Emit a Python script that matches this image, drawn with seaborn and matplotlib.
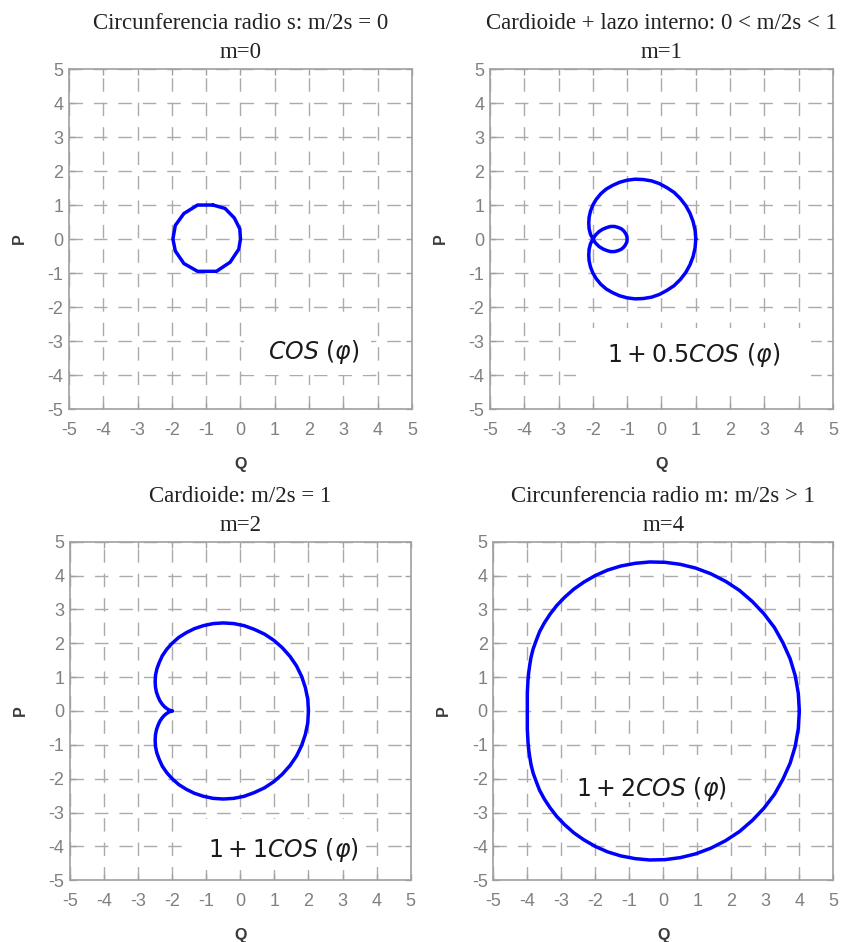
import matplotlib
matplotlib.use("Agg")
import matplotlib.pyplot as plt
import seaborn as sns
from matplotlib.patches import Rectangle

# ---- curve data (Q, P) ----
q_m0 = [-0.8, -0.45, -0.18, -0.02, 0.0, -0.05, -0.3, -0.7, -1.25, -1.65, -1.9, -1.97,
        -1.9, -1.65, -1.25, -0.8]
p_m0 = [1.0, 0.9, 0.62, 0.3, 0.0, -0.3, -0.68, -0.95, -0.95, -0.72, -0.35, 0.0,
        0.4, 0.75, 1.0, 1.0]

q_m1 = [1.00, 0.98, 0.92, 0.83, 0.71, 0.55, 0.37, 0.16, -0.06, -0.29, -0.53, -0.77,
        -1.00, -1.22, -1.42, -1.61, -1.77, -1.90, -2.00, -2.07, -2.11, -2.12, -2.11,
        -2.07, -2.00, -1.92, -1.82, -1.71, -1.59, -1.48, -1.37, -1.26, -1.17, -1.10,
        -1.05, -1.01, -1.00,
        -1.01, -1.05, -1.10, -1.17, -1.26, -1.37, -1.48, -1.59, -1.71, -1.82, -1.92,
        -2.00, -2.07, -2.11, -2.12, -2.11, -2.07, -2.00, -1.90, -1.77, -1.61, -1.42,
        -1.22, -1.00, -0.77, -0.53, -0.29, -0.06, 0.16, 0.37, 0.55, 0.71, 0.83, 0.92,
        0.98, 1.00]
p_m1 = [0.00, 0.26, 0.52, 0.76, 0.98, 1.19, 1.37, 1.51, 1.63, 1.71, 1.75, 1.76,
        1.73, 1.67, 1.58, 1.47, 1.33, 1.17, 1.00, 0.82, 0.64, 0.47, 0.30,
        0.14, 0.00, -0.12, -0.22, -0.29, -0.34, -0.37, -0.37, -0.34, -0.30, -0.24,
        -0.17, -0.09, 0.00,
        0.09, 0.17, 0.24, 0.30, 0.34, 0.37, 0.37, 0.34, 0.29, 0.22, 0.12,
        0.00, -0.14, -0.30, -0.47, -0.64, -0.82, -1.00, -1.17, -1.33, -1.47, -1.58,
        -1.67, -1.73, -1.76, -1.75, -1.71, -1.63, -1.51, -1.37, -1.19, -0.98, -0.76,
        -0.52, -0.26, 0.00]

q_m2 = [2.00, 1.98, 1.91, 1.80, 1.65, 1.46, 1.23, 0.98, 0.71, 0.41, 0.11, -0.19,
        -0.50, -0.80, -1.08, -1.35, -1.59, -1.81, -2.00, -2.16, -2.29, -2.38, -2.45,
        -2.49, -2.50, -2.49, -2.46, -2.41, -2.36, -2.30, -2.23, -2.17, -2.11, -2.07,
        -2.03, -2.01, -2.00,
        -2.01, -2.03, -2.07, -2.11, -2.17, -2.23, -2.30, -2.36, -2.41, -2.46, -2.49,
        -2.50, -2.49, -2.45, -2.38, -2.29, -2.16, -2.00, -1.81, -1.59, -1.35, -1.08,
        -0.80, -0.50, -0.19, 0.11, 0.41, 0.71, 0.98, 1.23, 1.46, 1.65, 1.80, 1.91,
        1.98, 2.00]
p_m2 = [0.00, 0.35, 0.69, 1.02, 1.33, 1.61, 1.87, 2.09, 2.27, 2.41, 2.52, 2.58,
        2.60, 2.58, 2.52, 2.43, 2.31, 2.17, 2.00, 1.82, 1.63, 1.43, 1.24,
        1.05, 0.87, 0.70, 0.55, 0.41, 0.30, 0.21, 0.13, 0.08, 0.04, 0.02,
        0.01, 0.00, 0.00,
        0.00, -0.01, -0.02, -0.04, -0.08, -0.13, -0.21, -0.30, -0.41, -0.55, -0.70,
        -0.87, -1.05, -1.24, -1.43, -1.63, -1.82, -2.00, -2.17, -2.31, -2.43, -2.52,
        -2.58, -2.60, -2.58, -2.52, -2.41, -2.27, -2.09, -1.87, -1.61, -1.33, -1.02,
        -0.69, -0.35, 0.00]

q_m4 = [4.00, 3.97, 3.88, 3.73, 3.52, 3.27, 2.96, 2.62, 2.24, 1.83, 1.40, 0.95,
        0.50, 0.05, -0.40, -0.83, -1.25, -1.64, -2.00, -2.33, -2.63, -2.90, -3.13,
        -3.33, -3.50, -3.64, -3.74, -3.83, -3.89, -3.93, -3.96, -3.98, -3.99, -4.00,
        -4.00, -4.00, -4.00,
        -4.00, -4.00, -4.00, -3.99, -3.98, -3.96, -3.93, -3.89, -3.83, -3.74, -3.64,
        -3.50, -3.33, -3.13, -2.90, -2.63, -2.33, -2.00, -1.64, -1.25, -0.83, -0.40,
        0.05, 0.50, 0.95, 1.40, 1.83, 2.24, 2.62, 2.96, 3.27, 3.52, 3.73, 3.88,
        3.97, 4.00]
p_m4 = [0.00, 0.52, 1.04, 1.54, 2.01, 2.46, 2.87, 3.23, 3.56, 3.83, 4.05, 4.22,
        4.33, 4.39, 4.40, 4.36, 4.28, 4.16, 4.00, 3.81, 3.60, 3.36, 3.12,
        2.86, 2.60, 2.34, 2.08, 1.83, 1.59, 1.35, 1.13, 0.92, 0.73, 0.54,
        0.35, 0.17, 0.00,
        -0.17, -0.35, -0.54, -0.73, -0.92, -1.13, -1.35, -1.59, -1.83, -2.08, -2.34,
        -2.60, -2.86, -3.12, -3.36, -3.60, -3.81, -4.00, -4.16, -4.28, -4.36, -4.40,
        -4.39, -4.33, -4.22, -4.05, -3.83, -3.56, -3.23, -2.87, -2.46, -2.01, -1.54,
        -1.04, -0.52, 0.00]

titles = ["Circunferencia radio s: m/2s = 0",
          "Cardioide + lazo interno: 0 < m/2s < 1",
          "Cardioide: m/2s = 1",
          "Circunferencia radio m: m/2s > 1"]
m_values = [0, 1, 2, 4]
formulas = [r"$COS\ (\varphi)$",
            r"$1 + 0.5COS\ (\varphi)$",
            r"$1 + 1COS\ (\varphi)$",
            r"$1 + 2COS\ (\varphi)$"]
tick_values = [-5, -4, -3, -2, -1, 0, 1, 2, 3, 4, 5]

curves = [(q_m0, p_m0), (q_m1, p_m1), (q_m2, p_m2), (q_m4, p_m4)]

# ---- layout ----
axes_rects = [
    [0.0819, 0.5658, 0.4074, 0.3609],
    [0.5819, 0.5658, 0.4074, 0.3609],
    [0.0831, 0.0655, 0.4046, 0.3595],
    [0.5859, 0.0655, 0.4038, 0.3595],
]
# white boxes behind the formula labels: (x0, y0, width, height) in data units
label_boxes = [(0.1, -4.0, 3.7, 1.6),
               (-2.5, -4.35, 6.85, 1.73),
               (-1.7, -4.7, 5.4, 1.5),
               (-2.8, -2.7, 4.9, 1.4)]
label_pos = [(2.14, -3.32), (0.95, -3.41), (1.27, -4.12), (-0.36, -2.30)]

sns.set_style("ticks")
plt.rcParams["font.family"] = ["Liberation Sans", "DejaVu Sans"]
plt.rcParams["lines.scale_dashes"] = False
plt.rcParams["mathtext.fontset"] = "dejavusans"
plt.rcParams["axes.unicode_minus"] = False

grid_gray = "#ababab"
spine_gray = "#a0a0a0"

fig = plt.figure(figsize=(8.42, 9.42), dpi=100)

for i in range(4):
    ax = fig.add_axes(axes_rects[i])
    ax.set_axisbelow(True)
    ax.grid(True, color=grid_gray, linewidth=1.0, linestyle=(0, (9.7, 7.9)))

    q, p = curves[i]
    sns.lineplot(x=q, y=p, sort=False, estimator=None, color="#0000ff",
                 linewidth=2.5, ax=ax, zorder=3, solid_joinstyle="round")

    bx, by, bw, bh = label_boxes[i]
    ax.add_patch(Rectangle((bx, by), bw, bh, facecolor="white",
                           edgecolor="none", zorder=2))
    tx, ty = label_pos[i]
    ax.text(tx, ty, formulas[i], ha="center", va="center", fontsize=17,
            color="#1a1a1a", zorder=4)

    ax.set_xlim(-5, 5)
    ax.set_ylim(-5, 5)
    ax.set_xticks(tick_values)
    ax.set_yticks(tick_values)
    ax.tick_params(direction="in", length=4, width=1, color=spine_gray,
                   top=True, right=True, labelsize=13, labelcolor="#808080")
    ax.tick_params(axis="x", pad=9)
    ax.tick_params(axis="y", pad=4)
    for sp in ax.spines.values():
        sp.set_color(spine_gray)
        sp.set_linewidth(1.2)

    ax.set_xlabel("Q", fontsize=11.5, fontweight="bold", color="#3a3a3a",
                  labelpad=13)
    ax.set_ylabel("P", fontsize=11.5, fontweight="bold", color="#3a3a3a",
                  labelpad=15)
    ax.set_title(f"{titles[i]}\nm={m_values[i]}", fontfamily="Liberation Serif",
                 fontsize=16.5, color="#222222", pad=8, linespacing=1.5)

fig.savefig("out.png", dpi=100)
